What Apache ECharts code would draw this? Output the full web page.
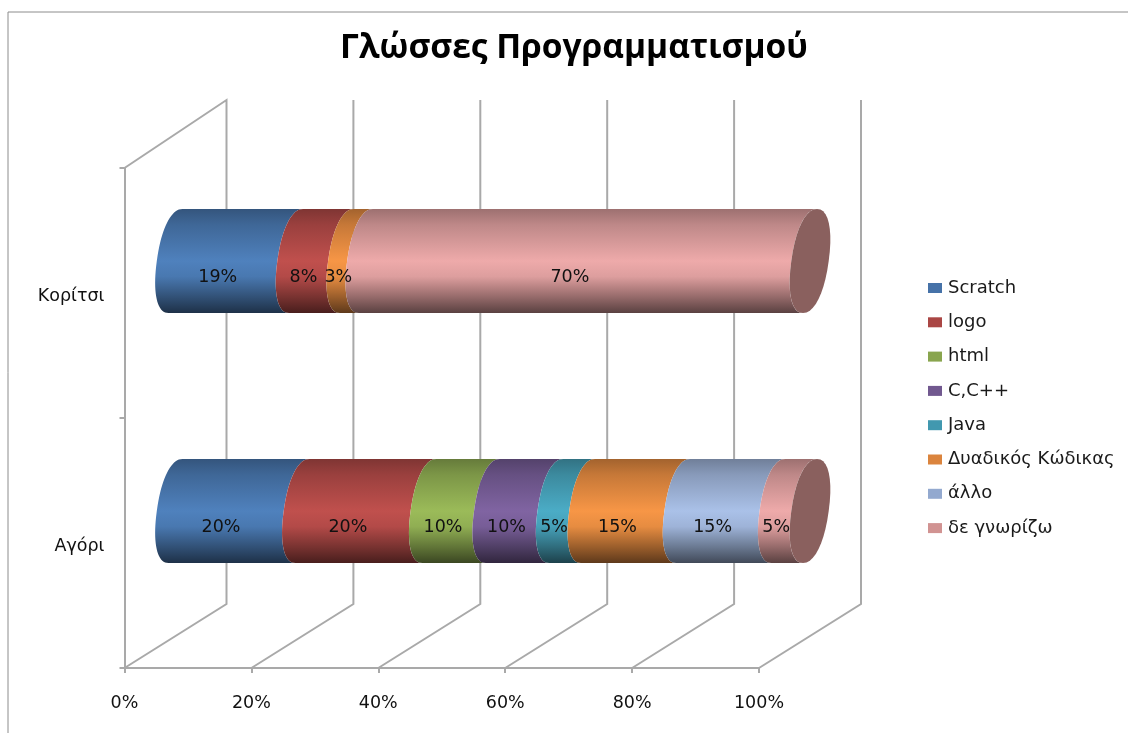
<!DOCTYPE html>
<html><head><meta charset="utf-8">
<style>html,body{margin:0;padding:0;background:#fff}#c{width:1128px;height:733px}</style>
<script src="https://cdn.jsdelivr.net/npm/echarts@6/dist/echarts.min.js"></script>
</head><body><div id="c"></div>
<script>
const titleText = 'Γλώσσες Προγραμματισμού';
const categories = ['Αγόρι', 'Κορίτσι'];
const xTicks = [0, 20, 40, 60, 80, 100];
const languages = ['Scratch', 'logo', 'html', 'C,C++', 'Java', 'Δυαδικός Κώδικας', 'άλλο', 'δε γνωρίζω'];
const scratch = [20, 19];
const logo = [20, 8];
const html = [10, 0];
const cpp = [10, 0];
const java = [5, 0];
const binary = [15, 3];
const other = [15, 0];
const unknown = [5, 70];
const seriesValues = [scratch, logo, html, cpp, java, binary, other, unknown];
const bodyColors = ['#4f81bd', '#c0504d', '#9bbb59', '#8064a2', '#4bacc6', '#f79646', '#aac1e8', '#eeaaaa'];
const legendColors = ['#4672a8', '#aa4644', '#89a54e', '#71588f', '#4198af', '#db843d', '#93a9cf', '#d19392'];

const FONT = '"Open Sans"';
const LABEL_FONT = '"DejaVu Sans"';
const DX = 51, DY = -32, BACK_X = 102, BACK_Y = -64, BACK_TOP = -68;
const RX = 18.7, RY = 52, TILT = 7, ROUND = 0.9;
const WALL = '#a9a9a9';

function shade(hex, f) {
  const n = parseInt(hex.slice(1), 16);
  const c = [n >> 16, (n >> 8) & 255, n & 255].map(v => Math.round(v * f));
  return `rgb(${c[0]},${c[1]},${c[2]})`;
}
function arc(cx, cy, from, to) {
  const pts = [];
  for (let i = 0; i <= 40; i++) {
    const t = (from + (to - from) * i / 40) * Math.PI / 180;
    const c = Math.cos(t), s = Math.sin(t);
    const sc = Math.sign(c) * Math.pow(Math.abs(c), ROUND);
    const ss = Math.sign(s) * Math.pow(Math.abs(s), ROUND);
    pts.push([cx + RX * sc + TILT * ss, cy - RY * ss]);
  }
  return pts;
}
function bodyRender(colorIdx) {
  const base = bodyColors[colorIdx];
  const fill = {
    type: 'linear', x: 0, y: 0, x2: 0, y2: 1,
    colorStops: [
      { offset: 0, color: shade(base, 0.66) },
      { offset: 0.15, color: shade(base, 0.8) },
      { offset: 0.5, color: base },
      { offset: 0.65, color: shade(base, 0.93) },
      { offset: 0.85, color: shade(base, 0.62) },
      { offset: 1, color: shade(base, 0.38) }
    ]
  };
  return function (params, api) {
    const cat = api.value(0), start = api.value(1), end = api.value(2);
    if (end <= start) return null;
    const p0 = api.coord([start, cat]);
    const p1 = api.coord([end, cat]);
    const cy = p0[1] + DY;
    const left = arc(p0[0] + DX, cy, 90, 270);
    const right = arc(p1[0] + DX, cy, 270, 90);
    const children = [{ type: 'polygon', shape: { points: left.concat(right) }, style: { fill: fill, stroke: null } }];
    if (end >= 100) {
      children.push({ type: 'polygon', z2: 5, shape: { points: arc(p1[0] + DX, cy, 0, 360) }, style: { fill: '#8a605e' } });
    }
    return { type: 'group', children };
  };
}

const bodySeries = languages.map((name, li) => {
  const rows = categories.map((c, ci) => {
    let s = 0;
    for (let k = 0; k < li; k++) s += seriesValues[k][ci];
    return [ci, s, s + seriesValues[li][ci], seriesValues[li][ci]];
  });
  return {
    type: 'custom', name, z: 3, silent: true,
    itemStyle: { color: legendColors[li] },
    encode: { x: [1, 2], y: 0 },
    data: rows,
    renderItem: bodyRender(li)
  };
});

const labelRows = [];
languages.forEach((name, li) => categories.forEach((c, ci) => {
  let s = 0;
  for (let k = 0; k < li; k++) s += seriesValues[k][ci];
  if (seriesValues[li][ci] > 0) labelRows.push([ci, s, s + seriesValues[li][ci], seriesValues[li][ci]]);
}));

const option = {
  animation: false,
  backgroundColor: '#fff',
  title: {
    text: titleText, left: 569, top: 26, textAlign: 'center',
    textStyle: { fontFamily: FONT, fontWeight: 'bold', fontSize: 33.5, color: '#000' }
  },
  legend: {
    orient: 'vertical', left: 923, top: 273, itemWidth: 14, itemHeight: 10, itemGap: 14.3,
    data: languages,
    icon: 'rect',
    selectedMode: false,
    textStyle: { fontFamily: LABEL_FONT, fontSize: 18, color: '#1a1a1a', padding: [0, 0, 0, 1], height: 20, lineHeight: 20 }
  },
  grid: { left: 124.5, right: 369, top: 168, bottom: 65 },
  xAxis: {
    type: 'value', min: 0, max: 100, interval: 20,
    axisLine: { show: true, lineStyle: { color: WALL, width: 2 } },
    axisTick: { show: true, length: 5, lineStyle: { color: WALL, width: 2 } },
    splitLine: { show: false },
    axisLabel: { formatter: '{value}%', margin: 26, fontFamily: LABEL_FONT, fontSize: 17.5, color: '#111' }
  },
  yAxis: {
    type: 'category', data: categories,
    axisLine: { show: true, lineStyle: { color: WALL, width: 2 } },
    axisTick: { show: true, length: 5, lineStyle: { color: WALL, width: 2 } },
    axisLabel: { margin: 20, verticalAlign: 'top', lineHeight: 7, fontFamily: LABEL_FONT, fontSize: 17.5, color: '#111' }
  },
  graphic: [
    { type: 'polyline', shape: { points: [[8, 733], [8, 12], [1128, 12]] }, style: { stroke: '#8c8c8c', lineWidth: 1, fill: null } }
  ],
  series: [
    {
      type: 'custom', z: 1, silent: true, name: 'walls',
      encode: { x: 0 },
      data: xTicks.map(v => [v]),
      renderItem: function (params, api) {
        const x = api.coord([api.value(0), 0])[0];
        const top = params.coordSys.y, bottom = top + params.coordSys.height;
        const style = { stroke: WALL, lineWidth: 2, fill: null };
        const pts = [[x, bottom], [x + BACK_X, bottom + BACK_Y], [x + BACK_X, top + BACK_TOP]];
        if (api.value(0) === 0) pts.push([x, top]);
        return { type: 'polyline', shape: { points: pts }, style };
      }
    },
    ...bodySeries,
    {
      type: 'custom', z: 6, silent: true, name: 'labels',
      encode: { x: [1, 2], y: 0 },
      data: labelRows,
      renderItem: function (params, api) {
        const mid = (api.value(1) + api.value(2)) / 2;
        const p = api.coord([mid, api.value(0)]);
        return {
          type: 'text', x: p[0] + 33, y: p[1] - 16,
          style: { text: api.value(3) + '%', align: 'center', verticalAlign: 'middle', font: '17.5px "DejaVu Sans"', fill: '#111' }
        };
      }
    }
  ]
};
echarts.init(document.getElementById('c'), null, { renderer: 'canvas' }).setOption(option);
</script></body></html>
